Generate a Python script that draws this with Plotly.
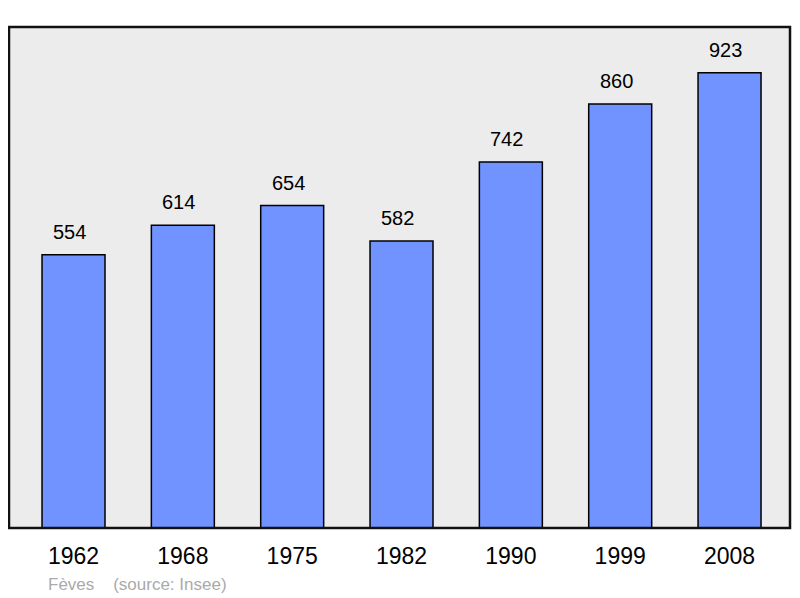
import plotly.graph_objects as go

annees = ['1962', '1968', '1975', '1982', '1990', '1999', '2008']
population = [554, 614, 654, 582, 742, 860, 923]
x_pos = list(range(len(annees)))

fig = go.Figure()

# Barres de population
fig.add_trace(go.Bar(
    x=x_pos,
    y=population,
    width=0.576,
    marker=dict(color='#7093ff', line=dict(color='black', width=1.5)),
    showlegend=False,
    hoverinfo='x+y'
))

# Valeurs au-dessus des barres (un peu décalées à gauche comme l'original)
for xi, val in zip(x_pos, population):
    fig.add_annotation(
        x=xi, y=val, text=str(val),
        showarrow=False, yanchor='bottom', yshift=10, xshift=-4,
        font=dict(family='Liberation Sans, Arial', size=20, color='black')
    )

# Source
fig.add_annotation(
    xref='paper', yref='paper', x=0.048, y=-0.112,
    xanchor='left', yanchor='middle',
    text='Fèves    (source: Insee)', showarrow=False,
    font=dict(family='Liberation Sans, Arial', size=17, color='#aaaaaa')
)

# Cadre du graphique
fig.add_shape(
    type='rect', xref='paper', yref='paper',
    x0=0, y0=0, x1=1, y1=1,
    line=dict(color='#111111', width=2.5), layer='above'
)

# la page ajoute une marge de 8 px autour de la figure
fig.update_layout(
    width=784, height=590,
    margin=dict(l=1, r=2, t=19, b=70),
    paper_bgcolor='white',
    plot_bgcolor='#ececec',
    font=dict(family='Liberation Sans, Arial', color='black'),
    xaxis=dict(
        tickmode='array', tickvals=x_pos, ticktext=annees,
        range=[-0.59, 6.553], showgrid=False, zeroline=False,
        ticks='outside', ticklen=7, tickcolor='rgba(0,0,0,0)',
        tickfont=dict(size=23)
    ),
    yaxis=dict(
        range=[0, 1016], showgrid=False, zeroline=False,
        showticklabels=False
    )
)

fig.write_html("out.html")
